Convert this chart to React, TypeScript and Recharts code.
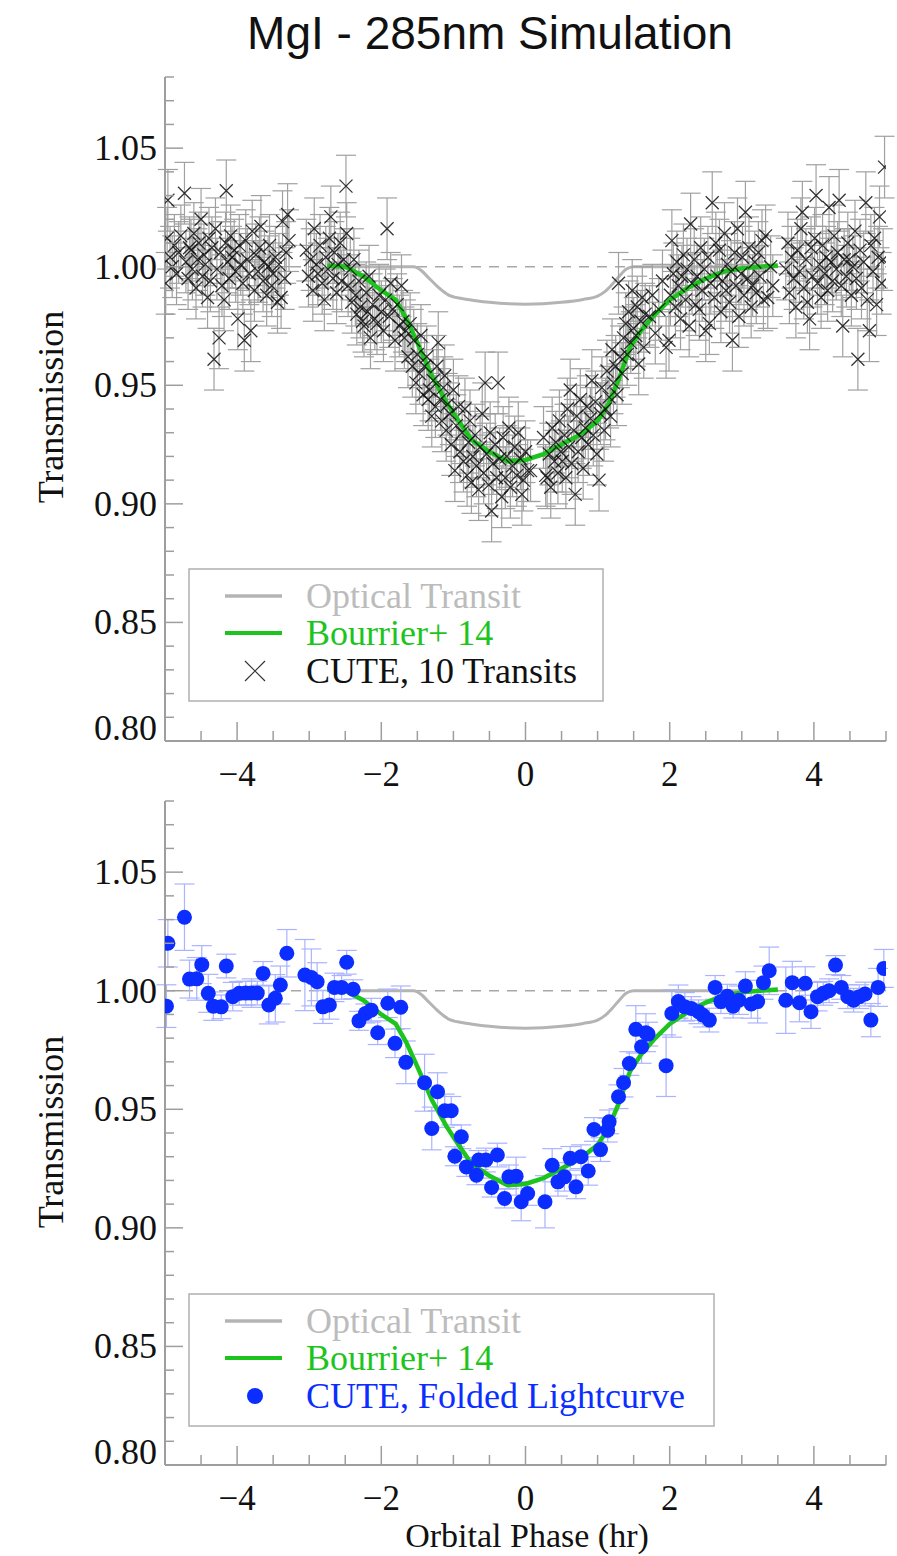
import React from 'react';
import { ComposedChart, Scatter, Line, XAxis, YAxis, ErrorBar, ReferenceLine } from 'recharts';

// axis ticks
const xTickValues = [-5, -4.5, -4, -3.5, -3, -2.5, -2, -1.5, -1, -0.5, 0, 0.5, 1, 1.5, 2, 2.5, 3, 3.5, 4, 4.5, 5];
const yTickValues = [0.8, 0.81, 0.82, 0.83, 0.84, 0.85, 0.86, 0.87, 0.88, 0.89, 0.9, 0.91, 0.92, 0.93, 0.94, 0.95,
  0.96, 0.97, 0.98, 0.99, 1.0, 1.01, 1.02, 1.03, 1.04, 1.05, 1.06, 1.07, 1.08];
const xLabelValues = [-4, -2, 0, 2, 4];
const yLabelValues = [0.8, 0.85, 0.9, 0.95, 1.0, 1.05];

// model curves
const bourrierPhase = [-2.75, -2.5, -2.25, -2.0, -1.8, -1.65, -1.5, -1.3, -1.1, -0.95, -0.75, -0.5, -0.25, 0.0, 0.25,
  0.5, 0.75, 1.0, 1.15, 1.3, 1.45, 1.6, 1.8, 2.0, 2.25, 2.5, 2.75, 3.0, 3.25, 3.5];
const bourrierFlux = [1.0005, 1.0, 0.996, 0.99, 0.986, 0.978, 0.968, 0.954, 0.943, 0.936, 0.927, 0.922, 0.918, 0.9185,
  0.921, 0.925, 0.929, 0.935, 0.942, 0.953, 0.966, 0.973, 0.98, 0.986, 0.991, 0.995, 0.998, 0.9993, 1.0, 1.0005];

const opticalPhase = [-2.75, -1.55, -1.45, -1.35, -1.25, -1.15, -1.05, -0.8, -0.5, 0.0, 0.5, 0.8, 1.0, 1.1, 1.2, 1.3,
  1.4, 1.5, 3.5];
const opticalFlux = [1.0, 1.0, 0.9985, 0.9955, 0.9925, 0.9898, 0.9878, 0.9862, 0.985, 0.9842, 0.985, 0.9862, 0.9876,
  0.9895, 0.9925, 0.996, 0.999, 1.0, 1.0];

// CUTE, 10 transits (upper panel)
const TRANSIT_ERR = 0.013;
const prePhase = [-4.99, -4.97, -4.96, -4.93, -4.9, -4.87, -4.84, -4.81, -4.78, -4.73, -4.71, -4.68, -4.66, -4.64,
  -4.62, -4.6, -4.57, -4.55, -4.53, -4.5, -4.48, -4.46, -4.44, -4.41, -4.39, -4.37, -4.35, -4.32, -4.3, -4.28, -4.25,
  -4.23, -4.21, -4.18, -4.16, -4.15, -4.13, -4.11, -4.09, -4.07, -4.04, -4.02, -3.99, -3.97, -3.95, -3.92, -3.9, -3.88,
  -3.86, -3.83, -3.81, -3.79, -3.76, -3.74, -3.71, -3.69, -3.67, -3.64, -3.62, -3.59, -3.57, -3.55, -3.52, -3.5, -3.47,
  -3.44, -3.42, -3.39, -3.37, -3.34, -3.32, -3.3, -3.28,
  -3.04, -3.01, -2.98, -2.95, -2.93, -2.9, -2.88, -2.85, -2.82, -2.79, -2.77, -2.74, -2.72, -2.7, -2.67, -2.65, -2.62,
  -2.6, -2.57, -2.55, -2.52, -2.49, -2.48, -2.46, -2.43, -2.41, -2.38, -2.36, -2.34, -2.31, -2.29, -2.26, -2.24, -2.21,
  -2.19, -2.17, -2.15, -2.12, -2.09, -2.06, -2.03, -2.0, -1.97, -1.94, -1.92, -1.89, -1.87, -1.84, -1.81, -1.78, -1.75,
  -1.72, -1.7, -1.68, -1.66];
const preFlux = [0.993, 1.012, 1.028, 1.004, 1.0, 1.009, 0.997, 1.006, 1.013, 1.031, 1.002, 0.995, 1.008, 1.007, 0.999,
  1.014, 0.991, 1.003, 1.01, 1.02, 0.996, 1.005, 1.001, 0.987, 1.012, 0.994, 1.008, 0.961, 1.016, 0.999, 0.97, 1.006,
  0.992, 0.986, 1.01, 1.032, 1.002, 0.995, 1.013, 1.004, 1.007, 0.998, 0.978, 1.009, 1.001, 0.993, 0.969, 1.011, 1.003,
  0.997, 0.973, 1.015, 0.99, 1.005, 0.998, 1.008, 1.017, 0.994, 1.002, 0.988, 1.0, 1.009, 0.992, 0.997, 1.004, 0.985,
  1.001, 0.987, 1.019, 0.995, 1.006, 1.022, 1.011,
  1.007, 0.996, 1.003, 0.99, 1.016, 1.001, 0.997, 1.009, 0.993, 0.986, 1.004, 0.999, 1.012, 1.021, 0.995, 1.006, 0.989,
  1.001, 1.01, 0.994, 1.003, 1.034, 1.014, 0.992, 0.999, 0.985, 1.003, 0.988, 0.98, 0.994, 0.983, 0.977, 0.975, 0.989,
  0.981, 0.996, 0.97, 0.984, 0.978, 0.976, 0.988, 0.981, 0.973, 0.986, 1.016, 0.979, 0.993, 0.982, 0.969, 0.984, 0.975,
  0.992, 0.977, 0.97, 0.973];

const inPhase = [-1.63, -1.6, -1.57, -1.55, -1.52, -1.5, -1.47, -1.45, -1.42, -1.4, -1.37, -1.35, -1.33, -1.3, -1.28,
  -1.25, -1.23, -1.21, -1.18, -1.16, -1.14, -1.12, -1.1, -1.08, -1.05, -1.03, -1.0, -0.98, -0.96, -0.93, -0.91, -0.88,
  -0.86, -0.84, -0.81, -0.79, -0.77, -0.75, -0.73, -0.7, -0.68, -0.65, -0.63, -0.6, -0.58, -0.56, -0.54, -0.51, -0.49,
  -0.47, -0.45, -0.42, -0.4, -0.38, -0.36, -0.33, -0.31, -0.28, -0.26, -0.23, -0.21, -0.18, -0.15, -0.12, -0.1, -0.07,
  -0.05, -0.03, 0.0, 0.03, 0.07,
  0.25, 0.28, 0.3, 0.33, 0.35, 0.37, 0.4, 0.42, 0.45, 0.47, 0.49, 0.51, 0.54, 0.56, 0.58, 0.6, 0.62, 0.64, 0.67, 0.69,
  0.71, 0.73, 0.76, 0.78, 0.8, 0.83, 0.85, 0.87, 0.9, 0.92, 0.94, 0.97, 0.99, 1.02, 1.04, 1.06, 1.09, 1.11, 1.13, 1.16,
  1.18, 1.2, 1.22, 1.25, 1.27, 1.29, 1.31, 1.34, 1.36, 1.39, 1.41, 1.43, 1.46, 1.48, 1.5, 1.53, 1.55, 1.57, 1.6, 1.62,
  1.64, 1.66];
const inFlux = [0.962, 0.976, 0.958, 0.969, 0.951, 0.963, 0.955, 0.971, 0.946, 0.958, 0.962, 0.944, 0.948, 0.937,
  0.952, 0.941, 0.958, 0.968, 0.944, 0.935, 0.949, 0.954, 0.931, 0.942, 0.938, 0.925, 0.948, 0.914, 0.933, 0.941,
  0.922, 0.93, 0.918, 0.94, 0.912, 0.926, 0.935, 0.909, 0.92, 0.929, 0.916, 0.906, 0.924, 0.938, 0.913, 0.951, 0.921,
  0.908, 0.93, 0.897, 0.917, 0.925, 0.911, 0.951, 0.919, 0.903, 0.928, 0.911, 0.92, 0.932, 0.907, 0.916, 0.924, 0.912,
  0.93, 0.919, 0.904, 0.91, 0.922, 0.914, 0.914,
  0.928, 0.912, 0.911, 0.921, 0.907, 0.932, 0.918, 0.926, 0.913, 0.935, 0.922, 0.918, 0.929, 0.911, 0.94, 0.924, 0.948,
  0.917, 0.931, 0.904, 0.937, 0.922, 0.944, 0.928, 0.915, 0.932, 0.941, 0.925, 0.936, 0.952, 0.929, 0.943, 0.921, 0.91,
  0.938, 0.949, 0.931, 0.94, 0.956, 0.945, 0.937, 0.965, 0.951, 0.958, 0.946, 0.993, 0.962, 0.955, 0.97, 0.976, 0.963,
  0.981, 0.968, 0.99, 0.974, 0.971, 0.983, 0.959, 0.977, 0.987, 0.966, 0.98];

const postPhase = [1.72, 1.76, 1.8, 1.85, 1.9, 1.95, 1.99, 2.01, 2.03, 2.05, 2.08, 2.1, 2.12, 2.15, 2.17, 2.19, 2.22,
  2.24, 2.27, 2.29, 2.31, 2.34, 2.36, 2.38, 2.41, 2.43, 2.45, 2.48, 2.5, 2.53, 2.55, 2.57, 2.59, 2.62, 2.64, 2.66, 2.69,
  2.71, 2.73, 2.76, 2.78, 2.8, 2.83, 2.85, 2.87, 2.9, 2.92, 2.94, 2.96, 2.99, 3.01, 3.03, 3.05, 3.08, 3.1, 3.13, 3.15,
  3.18, 3.2, 3.23, 3.25, 3.28, 3.3, 3.33, 3.36, 3.4, 3.43,
  3.61, 3.64, 3.66, 3.69, 3.72, 3.75, 3.77, 3.8, 3.82, 3.84, 3.86, 3.89, 3.91, 3.94, 3.96, 3.98, 4.01, 4.03, 4.05, 4.08,
  4.1, 4.12, 4.15, 4.17, 4.19, 4.21, 4.24, 4.26, 4.28, 4.31, 4.33, 4.35, 4.38, 4.4, 4.42, 4.45, 4.47, 4.49, 4.52, 4.54,
  4.57, 4.59, 4.61, 4.64, 4.66, 4.69, 4.72, 4.74, 4.77, 4.79, 4.82, 4.84, 4.87, 4.89, 4.91, 4.94, 4.96, 4.98];
const postFlux = [0.979, 0.988, 0.972, 0.982, 0.994, 0.966, 0.969, 0.988, 1.011, 0.997, 0.983, 1.002, 0.992, 0.978,
  0.996, 1.005, 0.986, 0.999, 0.975, 1.018, 0.993, 1.003, 0.984, 0.996, 0.982, 1.008, 0.99, 0.999, 0.973, 1.004, 0.976,
  0.993, 1.027, 0.987, 1.01, 0.996, 1.007, 0.981, 0.994, 1.014, 0.99, 1.001, 0.985, 0.998, 0.969, 1.006, 0.992, 1.016,
  0.979, 0.997, 1.004, 0.988, 1.023, 0.995, 1.008, 0.983, 0.992, 1.002, 0.989, 1.006, 0.996, 1.011, 0.986, 1.013, 0.987,
  1.0, 0.992,
  0.999, 1.01, 0.989, 1.004, 0.995, 0.983, 1.007, 0.998, 1.016, 1.023, 0.991, 1.003, 0.985, 0.978, 1.008, 0.996, 1.012,
  1.03, 0.993, 1.001, 0.987, 1.009, 0.997, 1.004, 0.99, 1.025, 1.002, 0.994, 1.013, 0.999, 1.006, 1.028, 0.992, 0.975,
  1.003, 0.996, 1.01, 1.003, 0.988, 1.0, 1.015, 0.995, 0.961, 1.007, 0.991, 1.002, 1.027, 0.986, 0.973, 1.009, 0.998,
  1.012, 0.984, 1.004, 1.021, 0.993, 1.003, 1.042];

// CUTE, folded lightcurve (lower panel)
const foldedPhase = [-4.98, -4.96, -4.73, -4.66, -4.56, -4.49, -4.4, -4.33, -4.22, -4.15, -4.06, -3.97, -3.88, -3.8,
  -3.72, -3.64, -3.56, -3.47, -3.4, -3.31, -3.06, -2.97, -2.89, -2.81, -2.72, -2.65, -2.55, -2.48, -2.39, -2.31, -2.22,
  -2.14, -2.05, -1.91, -1.81, -1.73, -1.66, -1.4, -1.3, -1.22, -1.12, -1.03, -0.98, -0.89, -0.82, -0.68, -0.65, -0.55,
  -0.47, -0.39, -0.29, -0.23, -0.13, -0.06, 0.03, 0.27, 0.37, 0.45, 0.54, 0.62, 0.7, 0.77, 0.87, 0.95, 1.04, 1.14, 1.16,
  1.29, 1.36, 1.44, 1.53, 1.61, 1.67, 1.7, 1.95, 2.03, 2.12, 2.21, 2.3, 2.4, 2.46, 2.55, 2.63, 2.71, 2.8, 2.88, 2.96,
  3.05, 3.13, 3.22, 3.3, 3.38, 3.61, 3.7, 3.8, 3.88, 3.96, 4.05, 4.13, 4.21, 4.3, 4.38, 4.47, 4.55, 4.63, 4.71, 4.79,
  4.89, 4.97];
const foldedFlux = [0.9935, 1.02, 1.031, 1.0049, 1.005, 1.011, 0.9989, 0.9935, 0.9932, 1.0104, 0.9975, 0.9989, 0.999,
  0.999, 0.999, 1.0073, 0.994, 0.9968, 1.0024, 1.0158, 1.0066, 1.0056, 1.0038, 0.9932, 0.994, 1.0014, 1.0014, 1.012,
  1.0006, 0.9873, 0.9904, 0.9918, 0.9823, 0.9947, 0.9778, 0.993, 0.9698, 0.9612, 0.9419, 0.9574, 0.9494, 0.9494, 0.9302,
  0.9384, 0.9257, 0.9222, 0.9286, 0.9286, 0.917, 0.9307, 0.9124, 0.9215, 0.9218, 0.911, 0.9145, 0.911, 0.9264, 0.9194,
  0.9215, 0.9293, 0.9173, 0.93, 0.924, 0.9415, 0.933, 0.9412, 0.9447, 0.9553, 0.9612, 0.9693, 0.9837, 0.9764, 0.9823,
  0.9817, 0.9684, 0.9904, 0.9954, 0.9932, 0.9925, 0.9911, 0.9897, 0.9876, 1.0014, 0.9954, 0.9977, 0.9935, 0.996, 1.002,
  0.9944, 0.9954, 1.0034, 1.0084, 0.996, 1.0034, 0.9949, 1.0031, 0.9911, 0.9975, 0.9989, 1.0, 1.0108, 1.0014, 0.9975,
  0.996, 0.9975, 0.9986, 0.9876, 1.0014, 1.0094];
const foldedErr = [0.009, 0.01, 0.014, 0.008, 0.009, 0.008, 0.008, 0.006, 0.005, 0.005, 0.006, 0.005, 0.005, 0.006,
  0.005, 0.005, 0.008, 0.01, 0.008, 0.01, 0.015, 0.012, 0.008, 0.007, 0.006, 0.006, 0.005, 0.005, 0.004, 0.004, 0.004,
  0.005, 0.005, 0.006, 0.006, 0.009, 0.009, 0.012, 0.009, 0.008, 0.007, 0.006, 0.004, 0.005, 0.004, 0.004, 0.004, 0.005,
  0.004, 0.005, 0.004, 0.005, 0.008, 0.008, 0.005, 0.011, 0.007, 0.006, 0.006, 0.005, 0.005, 0.005, 0.006, 0.005, 0.005,
  0.005, 0.005, 0.005, 0.006, 0.005, 0.01, 0.007, 0.008, 0.005, 0.013, 0.01, 0.007, 0.006, 0.005, 0.005, 0.005, 0.005,
  0.005, 0.005, 0.005, 0.005, 0.006, 0.006, 0.006, 0.009, 0.007, 0.01, 0.014, 0.009, 0.008, 0.007, 0.007, 0.006, 0.005,
  0.005, 0.004, 0.005, 0.005, 0.005, 0.005, 0.005, 0.007, 0.008, 0.008];

const zip = (xs: number[], ys: number[], es?: number[]) =>
  xs.slice(0, Math.min(xs.length, ys.length)).map((x, i) => ({ x, y: ys[i], err: es ? es[i] : TRANSIT_ERR }));

const bourrierData = zip(bourrierPhase, bourrierFlux);
const opticalData = zip(opticalPhase, opticalFlux);
const transitData = [...zip(prePhase, preFlux), ...zip(inPhase, inFlux), ...zip(postPhase, postFlux)];
const foldedData = zip(foldedPhase, foldedFlux, foldedErr);

const AXIS = '#9e9e9e';
const SERIF = '"Liberation Serif", "Times New Roman", serif';
const SANS = '"Liberation Sans", Arial, sans-serif';
const GREEN = '#1ec41e';
const BLUE = '#0b2dff';
const GREY_LINE = '#b4b4b4';

const near = (v: number, list: number[]) => list.some(l => Math.abs(l - v) < 1e-6);
const fmtX = (v: number) => (v < 0 ? '\u2212' + Math.abs(v) : String(v));

const BottomTick = ({ x, y, payload }: any) => {
  const major = near(payload.value, xLabelValues);
  return (
    <g>
      <line x1={x} x2={x} y1={y} y2={y - (major ? 19 : 10)} stroke={AXIS} strokeWidth={1.5} />
      {major && (
        <text x={x} y={y + 45} textAnchor="middle" fontFamily={SERIF} fontSize={35} fill="#111">
          {fmtX(payload.value)}
        </text>
      )}
    </g>
  );
};

const TopTick = ({ x, y, payload }: any) => {
  const major = near(payload.value, xLabelValues);
  return <line x1={x} x2={x} y1={y} y2={y + (major ? 19 : 10)} stroke={AXIS} strokeWidth={1.5} />;
};

const LeftTick = ({ x, y, payload }: any) => {
  const major = near(payload.value, yLabelValues);
  // the lowest label sits a little above its tick, as in the original
  const lift = payload.value < 0.801 ? -13 : 0;
  return (
    <g>
      <line x1={x} x2={x + (major ? 18 : 9)} y1={y} y2={y} stroke={AXIS} strokeWidth={1.5} />
      {major && (
        <text x={x - 8} y={y + 12 + lift} textAnchor="end" fontFamily={SERIF} fontSize={36} fill="#111">
          {payload.value.toFixed(2)}
        </text>
      )}
    </g>
  );
};

const RightTick = ({ x, y, payload }: any) => {
  const major = near(payload.value, yLabelValues);
  return <line x1={x} x2={x - (major ? 18 : 9)} y1={y} y2={y} stroke={AXIS} strokeWidth={1.5} />;
};

const Cross = (p: any) => {
  const s = 6.5;
  return (
    <path
      d={`M${p.cx - s},${p.cy - s}L${p.cx + s},${p.cy + s}M${p.cx - s},${p.cy + s}L${p.cx + s},${p.cy - s}`}
      stroke="#111"
      strokeOpacity={0.85}
      strokeWidth={1.3}
      fill="none"
    />
  );
};

const Dot = (p: any) => <circle cx={p.cx} cy={p.cy} r={7.5} fill={BLUE} />;

interface PanelProps {
  points: { x: number; y: number; err: number }[];
  crosses: boolean;
  height: number;
  top: number;
  xAxisHeight: number;
}

const Panel: React.FC<PanelProps> = ({ points, crosses, height, top, xAxisHeight }) => (
  <ComposedChart width={897} height={height} margin={{ top, right: 11, bottom: 0, left: 0 }}>
    <XAxis xAxisId={0} dataKey="x" type="number" domain={[-5, 5]} ticks={xTickValues} interval={0}
      allowDataOverflow height={xAxisHeight} tickSize={0} tickMargin={0} tickLine={false}
      axisLine={{ stroke: AXIS, strokeWidth: 2 }} tick={(p: any) => <BottomTick {...p} />} />
    <XAxis xAxisId="top" orientation="top" dataKey="x" type="number" domain={[-5, 5]} ticks={xTickValues}
      interval={0} allowDataOverflow height={0} tickSize={0} tickMargin={0} tickLine={false}
      axisLine={{ stroke: AXIS, strokeWidth: 2 }} tick={(p: any) => <TopTick {...p} />} />
    <YAxis yAxisId={0} dataKey="y" type="number" domain={[0.8, 1.08]} ticks={yTickValues} interval={0}
      allowDataOverflow width={165} tickSize={0} tickMargin={0} tickLine={false}
      axisLine={{ stroke: AXIS, strokeWidth: 2 }} tick={(p: any) => <LeftTick {...p} />} />
    <YAxis yAxisId="right" orientation="right" dataKey="y" type="number" domain={[0.8, 1.08]} ticks={yTickValues}
      interval={0} allowDataOverflow width={0} tickSize={0} tickMargin={0} tickLine={false}
      axisLine={{ stroke: AXIS, strokeWidth: 2 }} tick={(p: any) => <RightTick {...p} />} />
    <ReferenceLine y={1} stroke="#a8a8a8" strokeWidth={1.5} strokeDasharray="10 8" />
    <Line data={opticalData} dataKey="y" type="monotone" stroke={GREY_LINE} strokeWidth={3} dot={false}
      isAnimationActive={false} />
    <Scatter data={points} shape={crosses ? Cross : Dot} isAnimationActive={false}>
      <ErrorBar dataKey="err" direction="y" width={10} stroke={crosses ? '#a0a0a0' : '#aab3ff'} strokeWidth={1.2} />
    </Scatter>
    <Line data={bourrierData} dataKey="y" type="linear" stroke={GREEN} strokeWidth={4.5} dot={false}
      isAnimationActive={false} />
  </ComposedChart>
);

const legendText = { fontFamily: SERIF, fontSize: 36 };

export default function App() {
  return (
    <div style={{ position: 'absolute', left: 0, top: 0, width: 897, height: 1556, background: '#fff' }}>
      <div style={{ position: 'absolute', left: 0, top: 0 }}>
        <Panel points={transitData} crosses height={800} top={77} xAxisHeight={59} />
      </div>
      <div style={{ position: 'absolute', left: 0, top: 800 }}>
        <Panel points={foldedData} crosses={false} height={756} top={1} xAxisHeight={91} />
      </div>
      <svg width={897} height={1556} style={{ position: 'absolute', left: 0, top: 0, pointerEvents: 'none' }}>
        <text x={490} y={49} textAnchor="middle" fontFamily={SANS} fontSize={46} fill="#111">
          MgI - 285nm Simulation
        </text>
        <text transform="translate(63,407) rotate(-90)" textAnchor="middle" fontFamily={SERIF} fontSize={36} fill="#111">
          Transmission
        </text>
        <text transform="translate(63,1132) rotate(-90)" textAnchor="middle" fontFamily={SERIF} fontSize={36} fill="#111">
          Transmission
        </text>
        <text x={527} y={1547} textAnchor="middle" fontFamily={SERIF} fontSize={34} fill="#111">
          Orbital Phase (hr)
        </text>

        {/* upper legend */}
        <rect x={189} y={569} width={414} height={132} fill="none" stroke="#b0b0b0" strokeWidth={1.5} />
        <line x1={225} x2={282} y1={596} y2={596} stroke={GREY_LINE} strokeWidth={3.5} />
        <text x={306} y={608} {...legendText} fill="#bcbcbc">Optical Transit</text>
        <line x1={225} x2={282} y1={633} y2={633} stroke={GREEN} strokeWidth={4} />
        <text x={306} y={645} {...legendText} fill={GREEN}>Bourrier+ 14</text>
        <path d="M245,661L265,681M245,681L265,661" stroke="#333" strokeWidth={1.2} />
        <text x={306} y={683} {...legendText} fill="#111">CUTE, 10 Transits</text>

        {/* lower legend */}
        <rect x={189} y={1294} width={525} height={132} fill="none" stroke="#b0b0b0" strokeWidth={1.5} />
        <line x1={225} x2={282} y1={1321} y2={1321} stroke={GREY_LINE} strokeWidth={3.5} />
        <text x={306} y={1333} {...legendText} fill="#bcbcbc">Optical Transit</text>
        <line x1={225} x2={282} y1={1358} y2={1358} stroke={GREEN} strokeWidth={4} />
        <text x={306} y={1370} {...legendText} fill={GREEN}>Bourrier+ 14</text>
        <circle cx={255} cy={1396} r={8} fill={BLUE} />
        <text x={306} y={1408} {...legendText} fill={BLUE}>CUTE, Folded Lightcurve</text>
      </svg>
    </div>
  );
}
